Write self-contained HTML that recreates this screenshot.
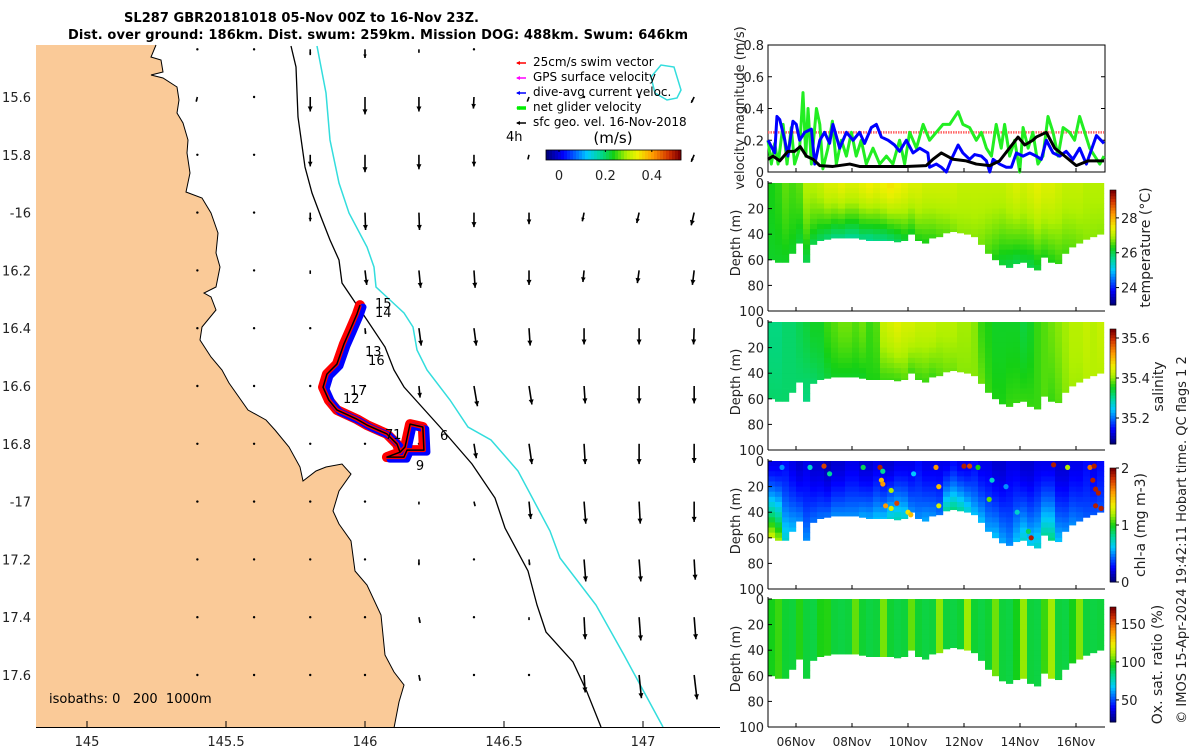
<!DOCTYPE html>
<html><head><meta charset="utf-8"><style>
html,body{margin:0;padding:0;background:#fff;}
svg{display:block;font-family:"DejaVu Sans","Liberation Sans",sans-serif;}
</style></head><body>
<svg id="root" width="1200" height="750" viewBox="0 0 1200 750" xmlns="http://www.w3.org/2000/svg">
<g id="map"></g>
<g id="vel"></g>
<g id="sec"></g>
<text x="124" y="22" font-size="13" font-weight="bold" fill="#000" textLength="355">SL287 GBR20181018 05-Nov 00Z to 16-Nov 23Z.</text>
<text x="68" y="39" font-size="13" font-weight="bold" fill="#000" textLength="620">Dist. over ground: 186km. Dist. swum: 259km. Mission DOG: 488km. Swum: 646km</text>
</svg>
<script>
// ---------- data ----------
const latTicks=[15.6,15.8,16,16.2,16.4,16.6,16.8,17,17.2,17.4,17.6];
const latTickLabels=['15.6','15.8','-16','16.2','16.4','16.6','16.8','-17','17.2','17.4','17.6'];
const lonTicks=[145,145.5,146,146.5,147];
const lonTickLabels=['145','145.5','146','146.5','147'];
const gridLon=[145.397,145.601,145.803,146.0,146.194,146.392,146.59,146.788,146.986,147.184];
const gridLat=[15.435,15.6,15.8,16.0,16.2,16.4,16.6,16.8,17.0,17.2,17.4,17.6];
const gridU=[
[0,0,0,0,0,0,0,0,0,0],
[-0.02,0,0,0,0,-0.01,-0.03,0,0,-0.05],
[0,0,0,0,0,0,-0.02,0,0,-0.05],
[0,0,0,0.01,0.01,0,0,-0.03,-0.04,-0.05],
[0,0,0,0.03,0.03,0.02,0,-0.02,-0.03,-0.03],
[0,0,0,0.01,0.04,0.04,0.02,0,0,-0.01],
[0,0,0,0,0.02,0.06,0.05,0.02,0,0],
[0,0,0,0,0,0.04,0.05,0.02,0,0],
[0,0,0,0,0,0.02,0.03,0.03,0.02,0],
[0,0,0,0,0,0,0.01,0.03,0.03,0.02],
[0,0,0,0,0.02,0,0,0.02,0.03,0.03],
[0,0,0,0,0.02,0,0,0.02,0.04,0.05]];
const gridV=[
[0,0,-0.1,-0.15,-0.06,-0.02,0,0,0,0],
[-0.08,-0.02,-0.25,-0.3,-0.25,-0.2,-0.08,0,0,-0.1],
[-0.02,-0.02,-0.2,-0.3,-0.25,-0.2,-0.08,0,0,-0.12],
[0,-0.03,-0.15,-0.3,-0.3,-0.25,-0.2,-0.15,-0.18,-0.22],
[0,-0.03,-0.06,-0.25,-0.3,-0.3,-0.25,-0.2,-0.22,-0.25],
[0,-0.02,-0.02,-0.1,-0.3,-0.3,-0.3,-0.28,-0.28,-0.28],
[0,-0.02,-0.02,0,-0.2,-0.35,-0.32,-0.3,-0.3,-0.3],
[0,0,-0.02,0,-0.02,-0.25,-0.35,-0.35,-0.35,-0.33],
[0,0,0,-0.02,-0.05,-0.08,-0.3,-0.38,-0.38,-0.35],
[0,0,0,-0.02,-0.1,-0.02,-0.1,-0.38,-0.38,-0.35],
[0,0,0,0,-0.1,0,-0.05,-0.38,-0.4,-0.38],
[0,0,0,0,-0.1,-0.02,-0.02,-0.3,-0.4,-0.42]];
const trackLon=[145.982,145.971,145.946,145.924,145.899,145.863,145.849,145.870,145.899,145.971,146.007,146.079,146.115,146.126,146.079,146.140,146.151,146.212,146.208,146.162,146.144,146.126];
const trackLat=[16.320,16.351,16.407,16.455,16.524,16.559,16.604,16.649,16.683,16.715,16.735,16.766,16.801,16.829,16.846,16.846,16.822,16.822,16.742,16.732,16.811,16.829];
const trackLabels=['15','14','13','16','17','12','7','1','6','9'];
const trackLabelLon=[146.036,146.036,146.0,146.011,145.946,145.921,146.072,146.101,146.27,146.183];
const trackLabelLat=[16.313,16.344,16.479,16.51,16.614,16.642,16.766,16.766,16.77,16.873];
const isoLabels=['isobaths: 0   200  1000m'];
// velocity panel
const velTicks=[0,0.2,0.4,0.6,0.8];
const dayTicks=[1,3,5,7,9,11];
const dayTickLabels=['06Nov','08Nov','10Nov','12Nov','14Nov','16Nov'];
const blueT=[0,.12,.24,.32,.42,.6,.71,.89,1.01,1.13,1.31,1.43,1.55,1.67,1.85,2.02,2.2,2.32,2.56,2.8,3.04,3.27,3.45,3.69,3.87,4.05,4.29,4.52,4.7,4.94,5.18,5.42,5.71,5.77,6.01,6.19,6.37,6.55,6.79,6.96,7.2,7.38,7.62,7.8,7.92,8.04,8.27,8.51,8.69,8.87,9.11,9.35,9.58,9.76,9.94,10.18,10.42,10.65,10.89,11.13,11.37,11.73,12];
const blueV=[0.2,0.16,0.12,0.35,0.33,0.2,0.1,0.32,0.3,0.2,0.25,0.26,0.27,0.05,0.2,0.25,0.18,0.3,0.15,0.25,0.2,0.25,0.18,0.28,0.3,0.22,0.2,0.17,0.13,0.2,0.12,0.15,0.12,0.03,0.05,0.03,0.0,0.08,0.17,0.12,0.08,0.11,0.1,0.07,0.0,0.08,0.05,0.03,0.03,0.12,0.1,0.12,0.1,0.08,0.2,0.12,0.1,0.13,0.08,0.15,0.05,0.23,0.18];
const greenT=[0,.12,.24,.36,.54,.68,.83,.95,1.13,1.25,1.35,1.43,1.55,1.73,1.85,1.96,2.14,2.3,2.44,2.62,2.8,2.98,3.15,3.33,3.51,3.75,3.99,4.23,4.46,4.7,4.88,5.06,5.3,5.54,5.77,6.01,6.25,6.49,6.79,6.96,7.2,7.44,7.62,7.8,7.98,8.15,8.33,8.45,8.63,8.81,8.99,9.11,9.29,9.46,9.64,9.82,10,10.18,10.36,10.54,10.77,10.95,11.13,11.31,11.49,11.67,11.85,12];
const greenV=[0.2,0.05,0.18,0.05,0.3,0.05,0.28,0.05,0.15,0.5,0.1,0.4,0.05,0.4,0.3,0.02,0.15,0.32,0.05,0.2,0.1,0.25,0.1,0.2,0.05,0.15,0.05,0.1,0.05,0.2,0.05,0.25,0.15,0.3,0.2,0.25,0.3,0.3,0.38,0.3,0.28,0.2,0.25,0.15,0.1,0.3,0.15,0.3,0.1,0.2,0.0,0.28,0.15,0.25,0.05,0.1,0.35,0.25,0.1,0.28,0.25,0.2,0.35,0.25,0.15,0.1,0.05,0.1];
const blackT=[0,.18,.42,.71,.95,1.15,1.37,1.61,1.85,2.32,2.92,3.27,4.11,4.94,5.65,5.89,6.19,6.61,7.08,7.44,7.92,8.27,8.93,9.17,9.46,9.58,9.94,10.24,10.6,11.01,11.43,12];
const blackV=[0.08,0.1,0.07,0.13,0.13,0.16,0.1,0.08,0.04,0.035,0.05,0.035,0.035,0.035,0.04,0.08,0.12,0.08,0.07,0.05,0.04,0.07,0.22,0.17,0.2,0.22,0.25,0.15,0.1,0.04,0.07,0.07];
const swimRef=[0.25];
// sections (48 bins of 0.25 day)
const bottomDepth=[60,62,62,55,47,62,48,45,44,43,43,43,43,44,45,45,45,45,46,45,40,45,47,43,42,39,38,39,40,42,48,55,60,64,66,63,62,66,68,58,62,63,55,50,47,44,42,40];
const depthTicks=[0,20,40,60,80,100];
const tempSurf=[26.3,26.4,26.6,26.5,26.6,27.0,27.0,27.1,27.3,27.3,27.4,27.3,27.3,27.4,27.5,27.4,27.5,27.6,27.5,27.4,27.3,27.3,27.2,27.2,27.2,27.2,27.2,27.1,27.1,27.1,27.1,27.1,27.1,27.1,27.2,27.3,27.2,27.3,27.4,27.3,27.3,27.2,27.1,27.1,27.1,27.0,27.0,27.0];
const tempDeep=[26.2,26.2,26.2,26.2,26.1,26.0,26.0,25.9,25.8,25.7,25.7,25.6,25.6,25.7,25.6,25.7,25.7,25.8,25.9,26.1,26.2,26.3,26.3,26.4,26.5,26.6,26.7,26.8,26.8,26.8,26.7,26.5,26.3,26.1,26.0,26.0,26.1,26.0,26.1,26.3,26.3,26.4,26.5,26.6,26.7,26.8,26.8,26.8];
const salSurf=[35.31,35.31,35.32,35.32,35.33,35.34,35.35,35.35,35.37,35.38,35.39,35.39,35.38,35.39,35.37,35.38,35.43,35.44,35.45,35.44,35.44,35.43,35.43,35.43,35.42,35.42,35.42,35.41,35.41,35.40,35.37,35.36,35.35,35.35,35.35,35.35,35.34,35.35,35.37,35.38,35.39,35.40,35.41,35.42,35.42,35.43,35.42,35.43];
const salDeep=[35.32,35.32,35.32,35.32,35.32,35.31,35.32,35.33,35.34,35.35,35.35,35.35,35.35,35.35,35.36,35.36,35.37,35.37,35.37,35.38,35.37,35.37,35.37,35.37,35.38,35.39,35.39,35.40,35.40,35.40,35.39,35.37,35.36,35.36,35.37,35.37,35.37,35.37,35.37,35.38,35.37,35.38,35.40,35.41,35.41,35.42,35.42,35.42];
const chlSurf=[0.2,0.2,0.25,0.2,0.15,0.2,0.15,0.15,0.1,0.15,0.15,0.2,0.2,0.15,0.15,0.2,0.15,0.15,0.2,0.2,0.2,0.25,0.2,0.2,0.2,0.2,0.25,0.2,0.2,0.25,0.2,0.2,0.15,0.15,0.2,0.2,0.15,0.15,0.2,0.2,0.2,0.15,0.15,0.2,0.2,0.25,0.2,0.25];
const chlDeep=[1.3,1.2,0.7,0.6,0.5,0.5,0.45,0.45,0.45,0.5,0.5,0.5,0.5,0.55,0.55,0.6,0.6,0.7,0.75,0.7,0.5,0.5,0.55,0.5,0.45,0.8,0.85,0.8,0.7,0.6,0.6,0.55,0.6,0.55,0.5,0.6,0.7,0.65,0.7,0.8,0.85,0.6,0.5,0.5,0.45,0.4,0.4,0.4];
const chlDotDay=[2.0,4.0,4.05,4.1,4.4,4.1,4.2,4.4,5.0,5.1,4.6,6.0,6.1,6.1,7.0,7.2,7.5,7.9,10.2,10.7,11.5,11.65,11.6,11.7,11.8,11.7,11.9,9.4,9.3,0.5,1.5,2.2,3.4,5.2,8.0,8.9,8.5];
const chlDotDepth=[4,5,15,18,23,8,35,37,40,42,33,5,20,35,4,4,5,30,3,5,5,4,15,22,25,35,37,60,55,5,5,10,5,10,15,40,20];
const chlDotVal=[1.8,1.9,1.5,1.6,1.2,0.8,1.6,1.3,1.4,1.5,1.8,1.6,1.5,1.3,1.9,1.8,1.0,1.1,1.9,1.2,1.7,1.9,1.9,1.9,1.9,1.9,1.9,1.9,0.9,0.5,0.7,0.8,0.9,0.6,0.7,0.7,0.5];
const oxVal=[96,100,93,92,98,92,91,97,98,92,91,92,104,93,91,92,106,93,91,92,104,93,91,92,108,92,91,93,110,93,91,93,105,92,91,96,109,92,91,100,110,92,91,96,107,92,91,92];

// ---------- helpers ----------
const NS='http://www.w3.org/2000/svg';
function mk(parent,tag,attrs){const e=document.createElementNS(NS,tag);for(const k in attrs)e.setAttribute(k,attrs[k]);parent.appendChild(e);return e;}
function cl(v){return Math.max(0,Math.min(1,v));}
const cmapStops=[[0,[0,0,128]],[0.12,[0,0,255]],[0.3,[0,200,255]],[0.4,[0,216,150]],[0.5,[20,208,20]],[0.6,[176,240,0]],[0.68,[240,240,0]],[0.8,[255,153,0]],[0.92,[208,48,0]],[1,[128,0,0]]];
function jet(t){t=cl(t);for(let i=1;i<cmapStops.length;i++){const a=cmapStops[i-1],b=cmapStops[i];if(t<=b[0]){const f=(t-a[0])/(b[0]-a[0]);const c=a[1].map((v,k)=>Math.round(v+(b[1][k]-v)*f));return 'rgb('+c.join(',')+')';}}return 'rgb(128,0,0)';}
const map=document.getElementById('map'),vel=document.getElementById('vel'),sec=document.getElementById('sec');
const X=lon=>87+(lon-145)*278, Y=lat=>97+(lat-15.6)*289;

// ---------- map ----------
const coast=[[36,45],[156,45],[151,57],[161,60],[163,72],[151,75],[163,78],[177,87],[179,100],[177,113],[183,123],[188,140],[187,153],[190,173],[186,192],[202,198],[211,213],[218,233],[216,253],[220,267],[216,287],[204,293],[211,297],[216,310],[202,327],[200,340],[211,357],[222,370],[229,383],[248,410],[266,420],[275,430],[289,447],[300,467],[303,481],[316,471],[326,467],[342,464],[351,474],[339,491],[333,511],[339,524],[351,541],[355,571],[367,585],[381,615],[385,655],[394,672],[404,685],[399,702],[394,728],[36,728]];
let land=mk(map,'polygon',{points:coast.map(p=>p.join(',')).join(' '),fill:'#FACA98',stroke:'none'});


let cline=mk(map,'polyline',{points:coast.slice(1,-1).map(p=>p.join(',')).join(' '),fill:'none',stroke:'#000','stroke-width':1});


const iso200=[[291,46],[296,67],[298,117],[305,167],[312,193],[321,217],[330,240],[339,260],[342,283],[367,320],[385,347],[394,370],[404,387],[440,427],[472,464],[495,498],[505,528],[528,571],[537,605],[546,632],[573,662],[587,692],[601,727]];
let i2=mk(map,'polyline',{points:iso200.map(p=>p.join(',')).join(' '),fill:'none',stroke:'#000','stroke-width':1.3});


const iso1000=[[317,46],[326,93],[330,140],[339,183],[349,213],[367,247],[374,267],[376,287],[390,300],[404,313],[413,327],[417,350],[427,370],[450,400],[468,427],[491,440],[518,471],[550,531],[560,558],[596,605],[624,655],[663,727]];
let i1=mk(map,'polyline',{points:iso1000.map(p=>p.join(',')).join(' '),fill:'none',stroke:'#33dddd','stroke-width':1.5});


let eddy=mk(map,'polygon',{points:'651,77 661,65 674,67 681,90 677,98 667,100 655,93',fill:'none',stroke:'#33dddd','stroke-width':1.5});


// arrows
const aScale=58;
for(let r=0;r<gridLat.length;r++)for(let c=0;c<gridLon.length;c++){
  const u=gridU[r][c],v=gridV[r][c];
  const x0=X(gridLon[c]),y0=Y(gridLat[r]);
  if(r===0 && c>=6) continue;
  const dx=u*aScale,dy=-v*aScale,L=Math.hypot(dx,dy);
  const g=mk(map,'g',{});
  
  
  if(L<2){mk(g,'circle',{cx:x0,cy:y0,r:1.2,fill:'#000'});continue;}
  const x1=x0+dx,y1=y0+dy,ux=dx/L,uy=dy/L,h=Math.min(5,L*0.4);
  mk(g,'line',{x1:x0,y1:y0,x2:x1,y2:y1,stroke:'#000','stroke-width':1.6});
  mk(g,'polygon',{points:[x1,y1,x1-ux*h-uy*h*0.5,y1-uy*h+ux*h*0.5,x1-ux*h+uy*h*0.5,y1-uy*h-ux*h*0.5].join(','),fill:'#000'});
}
// glider track
const tp=trackLon.map((l,i)=>X(l)+','+Y(trackLat[i])).join(' ');
const tp2=trackLon.map((l,i)=>(X(l)+3)+','+(Y(trackLat[i])+2)).join(' ');
let tr=mk(map,'polyline',{points:tp,fill:'none',stroke:'#ff0000','stroke-width':10,'stroke-linejoin':'round','stroke-linecap':'round'});


let tb=mk(map,'polyline',{points:tp2,fill:'none',stroke:'#0000ff','stroke-width':7,'stroke-linejoin':'round','stroke-linecap':'round'});


let tr2=mk(map,'polyline',{points:tp,fill:'none',stroke:'#ff0000','stroke-width':4,'stroke-linejoin':'round'});


let tk=mk(map,'polyline',{points:tp,fill:'none',stroke:'#000','stroke-width':1.5,'stroke-linejoin':'round'});


trackLabels.forEach((s,i)=>{
  const t=mk(map,'text',{x:X(trackLabelLon[i]),y:Y(trackLabelLat[i])+5,'font-size':13,fill:'#000'});
  t.textContent=s;
  
  
});
// axes
let mb=mk(map,'line',{x1:36,y1:727.5,x2:720,y2:727.5,stroke:'#000','stroke-width':1});


latTicks.forEach((v,i)=>{
  const t=mk(map,'text',{x:31,y:Y(v)+5,'font-size':13,'text-anchor':'end',fill:'#222'});
  t.textContent=latTickLabels[i];
  
  
});
lonTicks.forEach((v,i)=>{
  mk(map,'line',{x1:X(v),y1:727,x2:X(v),y2:721,stroke:'#000'});
  const t=mk(map,'text',{x:X(v),y:746,'font-size':13,'text-anchor':'middle',fill:'#222'});
  t.textContent=lonTickLabels[i];
  
  
});
let iso=mk(map,'text',{x:49,y:703,'font-size':13,fill:'#000',style:'white-space:pre'});
iso.textContent=isoLabels[0];


// legend
const legText=['25cm/s swim vector','GPS surface velocity','dive-avg current veloc.','net glider velocity','sfc geo. vel. 16-Nov-2018'];
const legCol=['#ff0000','#ff00ff','#0000ff','#00ee00','#000'];
legText.forEach((s,i)=>{
  const y=62+i*15;
  const g=mk(map,'g',{});
  
  
  mk(g,'line',{x1:517,y1:y+1,x2:526,y2:y+1,stroke:legCol[i],'stroke-width':i===3?3.5:1.5});
  mk(g,'polygon',{points:(516)+','+(y+1)+' '+520+','+(y-1)+' '+520+','+(y+3),fill:legCol[i]});
  const t=mk(g,'text',{x:533,y:y+4,'font-size':12,fill:'#000'});
  t.textContent=s;
});
let h4=mk(map,'text',{x:506,y:141,'font-size':13,fill:'#000'});
h4.textContent='4h';


let ms=mk(map,'text',{x:613,y:143,'font-size':15,'text-anchor':'middle',fill:'#000'});
ms.textContent='(m/s)';


const cbg=mk(map,'g',{});


for(let k=0;k<45;k++)mk(cbg,'rect',{x:546+k*3,y:150,width:3.3,height:10,fill:jet(k/44)});
mk(cbg,'rect',{x:546,y:150,width:135,height:10,fill:'none',stroke:'#000','stroke-width':0.8});
const cbTicks=[0,0.2,0.4],cbLab=['0','0.2','0.4'];
cbTicks.forEach((v,i)=>{const x=559+v*232;mk(cbg,'line',{x1:x,y1:150,x2:x,y2:152,stroke:'#000'});const t=mk(cbg,'text',{x:x,y:180,'font-size':13,'text-anchor':'middle',fill:'#222'});t.textContent=cbLab[i];});

// ---------- velocity panel ----------
const VX=d=>768+d*28, VY=v=>172-v*158.75;
let vb=mk(vel,'rect',{x:768,y:45,width:337,height:127,fill:'#fff',stroke:'#000','stroke-width':1});


velTicks.forEach(v=>{
  mk(vel,'line',{x1:768,y1:VY(v),x2:772,y2:VY(v),stroke:'#000'});
  mk(vel,'line',{x1:1105,y1:VY(v),x2:1101,y2:VY(v),stroke:'#000'});
  const t=mk(vel,'text',{x:764,y:VY(v)+5,'font-size':13,'text-anchor':'end',fill:'#222'});
  t.textContent=v===0?'0':v.toFixed(1);
  
  
});
let ref=mk(vel,'line',{x1:VX(0),y1:VY(swimRef[0]),x2:VX(12),y2:VY(swimRef[0]),stroke:'#ff6666','stroke-width':2.5,'stroke-dasharray':'1.5 1'});


function series(T,V,col){return mk(vel,'polyline',{points:T.map((t,i)=>VX(t)+','+VY(V[i])).join(' '),fill:'none',stroke:col,'stroke-width':3,'stroke-linejoin':'round'});}
let sg=series(greenT,greenV,'#22ee22');


let sbl=series(blueT,blueV,'#0000ff');


let sk=series(blackT,blackV,'#000');


let vyl=mk(vel,'text',{x:0,y:0,'font-size':13,'text-anchor':'middle',fill:'#222',transform:'translate(744,108) rotate(-90)'});
vyl.textContent='velocity magnitude (m/s)';



// ---------- sections ----------
const panels=[
 {top:183,name:'temperature',surf:tempSurf,deep:tempDeep,min:23.0,max:29.6,cb:[190,305],ticks:[24,26,28],tl:['24','26','28'],label:'temperature (°C)',lx:1150},
 {top:322,name:'salinity',surf:salSurf,deep:salDeep,min:35.07,max:35.645,cb:[329,444],ticks:[35.2,35.4,35.6],tl:['35.2','35.4','35.6'],label:'salinity',lx:1163},
 {top:461,name:'chlorophyll',surf:chlSurf,deep:chlDeep,min:0,max:2,cb:[468,582],ticks:[0,1,2],tl:['0','1','2'],label:'chl-a (mg m-3)',lx:1145},
 {top:599,name:'oxygen',surf:oxVal,deep:oxVal,min:21,max:172,cb:[607,722],ticks:[50,100,150],tl:['50','100','150'],label:'Ox. sat. ratio (%)',lx:1162}
];
panels.forEach((P,pi)=>{
  const g=mk(sec,'g',{});
  
  
  const DY=d=>P.top+d*1.28;
  const norm=v=>(v-P.min)/(P.max-P.min);
  for(let i=0;i<bottomDepth.length;i++){
    const x=VX(i*0.25),w=7.2,bd=bottomDepth[i];
    const n=Math.ceil(bd/4);
    for(let k=0;k<n;k++){
      const z0=k*4,z1=Math.min(bd,z0+4),f=((z0+z1)/2)/bd;
      const val=P.surf[i]+(P.deep[i]-P.surf[i])*Math.pow(f,1.5);
      mk(g,'rect',{x:x,y:DY(z0),width:w,height:DY(z1)-DY(z0)+0.4,fill:jet(norm(val))});
    }
  }
  if(pi===2){
    chlDotDay.forEach((d,i)=>{
      const c=mk(g,'circle',{cx:VX(d),cy:DY(chlDotDepth[i]),r:2.6,fill:jet(norm(chlDotVal[i]))});
      
      
    });
  }
  mk(g,'line',{x1:768,y1:P.top-2,x2:768,y2:DY(100),stroke:'#000'});
  mk(g,'line',{x1:768,y1:DY(100),x2:1105,y2:DY(100),stroke:'#000'});
  depthTicks.forEach(d=>{
    mk(g,'line',{x1:768,y1:DY(d),x2:772,y2:DY(d),stroke:'#000'});
    const t=mk(g,'text',{x:764,y:DY(d)+5,'font-size':13,'text-anchor':'end',fill:'#222'});
    t.textContent=String(d);
    
    
  });
  dayTicks.forEach(d=>{mk(g,'line',{x1:VX(d),y1:DY(100),x2:VX(d),y2:DY(100)-4,stroke:'#000'});});
  const yl=mk(g,'text',{x:0,y:0,'font-size':13,'text-anchor':'middle',fill:'#222',transform:'translate(740,'+(P.top+60)+') rotate(-90)'});
  yl.textContent='Depth (m)';
  
  
  const cg=mk(g,'g',{});
  
  
  const h=P.cb[1]-P.cb[0];
  for(let k=0;k<40;k++)mk(cg,'rect',{x:1110,y:P.cb[1]-(k+1)*h/40,width:6,height:h/40+0.5,fill:jet(k/39)});
  mk(cg,'rect',{x:1110,y:P.cb[0],width:6,height:h,fill:'none',stroke:'#000','stroke-width':0.6});
  P.ticks.forEach((v,i)=>{
    const y=P.cb[1]-norm(v)*h;
    mk(cg,'line',{x1:1116,y1:y,x2:1119,y2:y,stroke:'#000'});
    const t=mk(cg,'text',{x:1121,y:y+5,'font-size':13,fill:'#222'});
    t.textContent=P.tl[i];
  });
  const cl2=mk(g,'text',{x:0,y:0,'font-size':14,'text-anchor':'middle',fill:'#222',transform:'translate('+P.lx+','+((P.cb[0]+P.cb[1])/2)+') rotate(-90)'});
  cl2.textContent=P.label;
  
  
});
dayTicks.forEach((d,i)=>{
  const t=mk(sec,'text',{x:VX(d),y:746,'font-size':12,'text-anchor':'middle',fill:'#222'});
  t.textContent=dayTickLabels[i];
  
  
});
dayTicks.forEach(d=>{mk(vel,'line',{x1:VX(d),y1:172,x2:VX(d),y2:168,stroke:'#000'});});
let imos=mk(sec,'text',{x:0,y:0,'font-size':13,'text-anchor':'middle',fill:'#222',transform:'translate(1186,540) rotate(-90)'});
imos.textContent='© IMOS 15-Apr-2024 19:42:11 Hobart time. QC flags 1  2';


</script>
</body></html>
